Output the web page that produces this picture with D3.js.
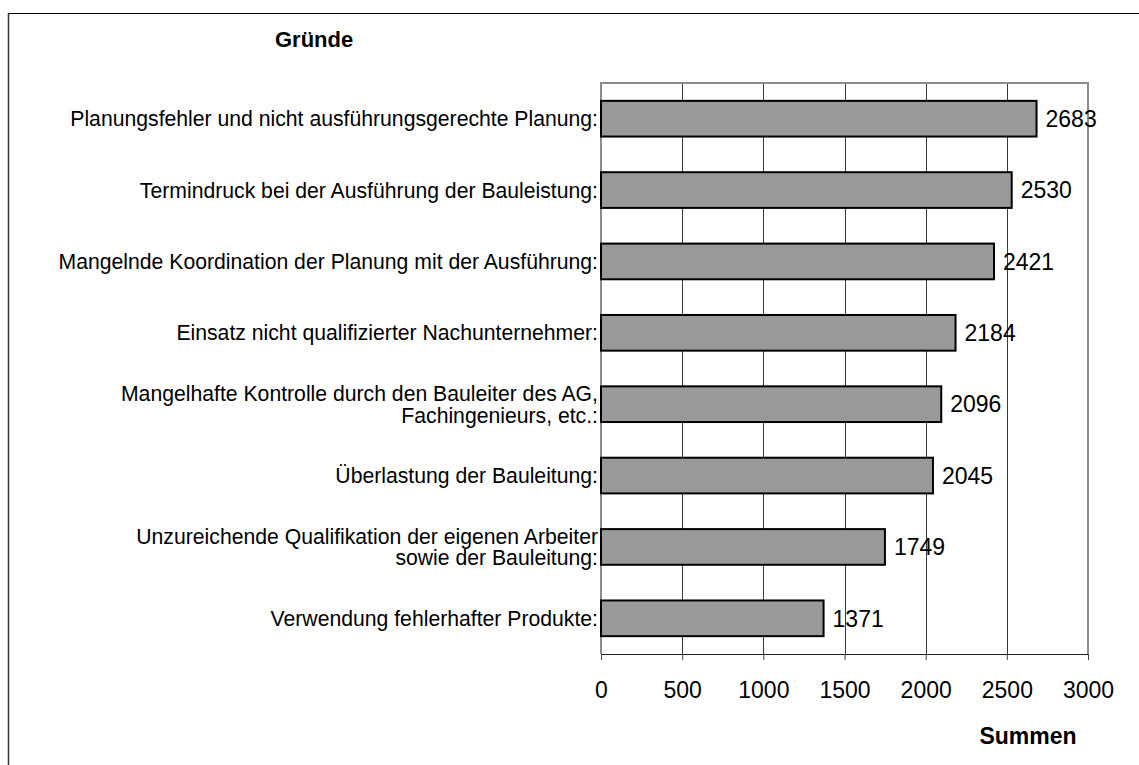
<!DOCTYPE html>
<html>
<head>
<meta charset="utf-8">
<script src="https://cdn.jsdelivr.net/npm/d3@7"></script>
<style>
  body { margin: 0; background: #fff; }
  text { font-family: "Liberation Sans", Arial, sans-serif; fill: #000; }
</style>
</head>
<body>
<div id="chart"></div>
<script>
// data
var reasons = [
  ["Planungsfehler und nicht ausführungsgerechte Planung:"],
  ["Termindruck bei der Ausführung der Bauleistung:"],
  ["Mangelnde Koordination der Planung mit der Ausführung:"],
  ["Einsatz nicht qualifizierter Nachunternehmer:"],
  ["Mangelhafte Kontrolle durch den Bauleiter des AG,", "Fachingenieurs, etc.:"],
  ["Überlastung der Bauleitung:"],
  ["Unzureichende Qualifikation der eigenen Arbeiter", "sowie der Bauleitung:"],
  ["Verwendung fehlerhafter Produkte:"]
];
var sums = [2683, 2530, 2421, 2184, 2096, 2045, 1749, 1371];
var xTicks = [0, 500, 1000, 1500, 2000, 2500, 3000];

var svgWidth = 1139, svgHeight = 765;
var margin = {top: 83, left: 601, right: 1139 - 1088, bottom: 765 - 654};
var width = svgWidth - margin.left - margin.right;
var height = svgHeight - margin.top - margin.bottom;

var svg = d3.select("#chart").append("svg")
  .attr("width", svgWidth)
  .attr("height", svgHeight);

// outer frame (only top and left show)
svg.append("line").attr("x1", 8).attr("x2", svgWidth).attr("y1", 13.5).attr("y2", 13.5)
  .attr("stroke", "#000").attr("stroke-width", 1);
svg.append("line").attr("x1", 8.5).attr("x2", 8.5).attr("y1", 13).attr("y2", svgHeight)
  .attr("stroke", "#333").attr("stroke-width", 1.5);

var chartGroup = svg.append("g")
  .attr("transform", `translate(${margin.left}, ${margin.top})`);

var xScale = d3.scaleLinear().domain([0, 3000]).range([0, width]);
var yScale = d3.scaleBand().domain(d3.range(sums.length)).range([0, height])
  .paddingInner(0.5).paddingOuter(0.25);

// gridlines
chartGroup.selectAll("line.grid")
  .data(xTicks.slice(1, -1))
  .enter()
  .append("line")
  .attr("x1", d => Math.round(xScale(d)) + 0.5)
  .attr("x2", d => Math.round(xScale(d)) + 0.5)
  .attr("y1", 0)
  .attr("y2", height)
  .attr("stroke", "#3a3a3a")
  .attr("stroke-width", 1);

// plot border top / right / left
chartGroup.append("path")
  .attr("d", `M0,${height} V0 H${width} V${height}`)
  .attr("fill", "none")
  .attr("stroke", "#8c8c8c")
  .attr("stroke-width", 2);

// bottom axis
var bottomAxis = d3.axisBottom(xScale).tickValues(xTicks).tickFormat(d3.format("d"))
  .tickSize(6).tickPadding(22);
var xAxis = chartGroup.append("g")
  .attr("transform", `translate(0, ${height})`)
  .call(bottomAxis);
xAxis.select(".domain").attr("stroke", "#222");
xAxis.selectAll(".tick line").attr("stroke", "#444");
xAxis.selectAll("text")
  .style("font-family", "Liberation Sans, Arial, sans-serif")
  .attr("font-size", "23px")
  .attr("fill", "#000");

// bars
chartGroup.selectAll("rect.bar")
  .data(sums)
  .enter()
  .append("rect")
  .classed("bar", true)
  .attr("x", 0)
  .attr("y", (d, i) => yScale(i))
  .attr("width", d => xScale(d))
  .attr("height", yScale.bandwidth())
  .attr("fill", "#999999")
  .attr("stroke", "#000")
  .attr("stroke-width", 2);

// value labels
chartGroup.selectAll("text.val")
  .data(sums)
  .enter()
  .append("text")
  .classed("val", true)
  .attr("x", d => xScale(d) + 9)
  .attr("y", (d, i) => yScale(i) + yScale.bandwidth() / 2)
  .attr("dy", "0.36em")
  .attr("font-size", "23px")
  .text(d => d);

// category labels
var catLabels = chartGroup.selectAll("text.cat")
  .data(reasons)
  .enter()
  .append("text")
  .classed("cat", true)
  .attr("x", -3)
  .attr("y", (d, i) => yScale(i) + yScale.bandwidth() / 2)
  .attr("text-anchor", "end")
  .attr("font-size", "21.2px");

catLabels.each(function(lines) {
  var t = d3.select(this);
  var lh = 21.5;
  lines.forEach(function(line, k) {
    t.append("tspan")
      .attr("x", -3)
      .attr("dy", k === 0 ? (0.36 * 21.2 - (lines.length - 1) * lh / 2) + "px" : lh + "px")
      .text(line);
  });
});

// axis titles
svg.append("text")
  .attr("x", 275)
  .attr("y", 47)
  .attr("font-size", "22px")
  .attr("font-weight", "bold")
  .text("Gründe");

svg.append("text")
  .attr("x", 1028)
  .attr("y", 744)
  .attr("text-anchor", "middle")
  .attr("font-size", "23px")
  .attr("font-weight", "bold")
  .text("Summen");
</script>
</body>
</html>
